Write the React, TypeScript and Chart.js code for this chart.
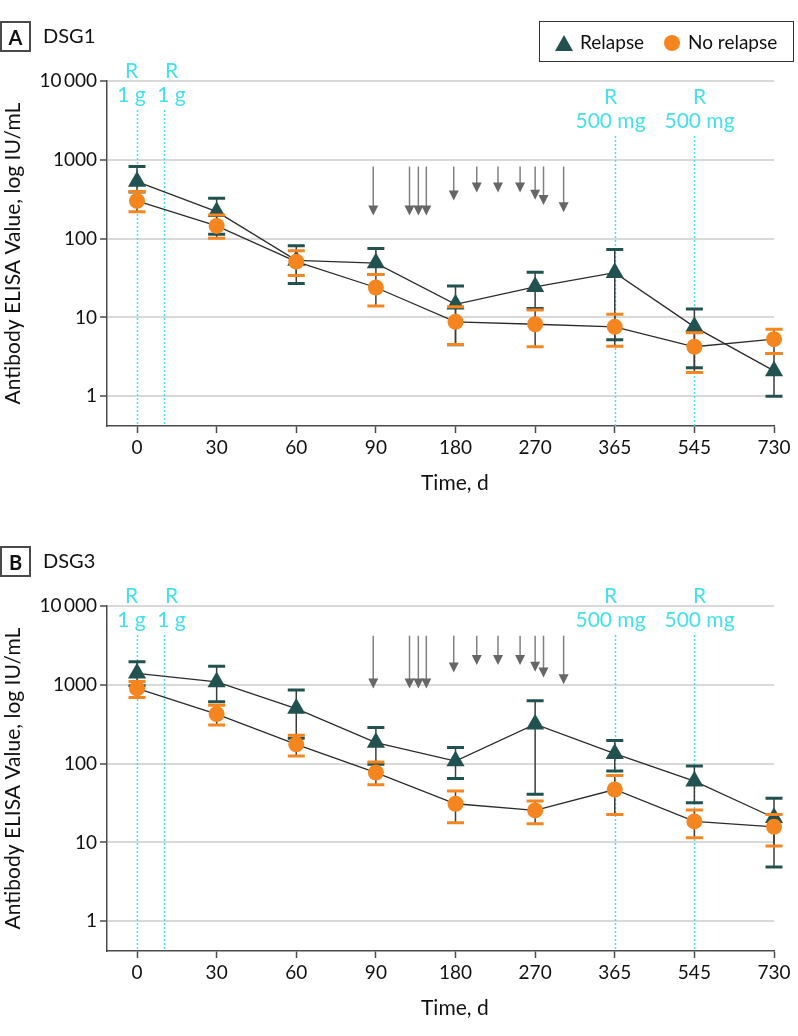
import React, { useEffect, useRef } from "react";
import { Chart, registerables } from "chart.js";

Chart.register(...registerables);

// ---------- data ----------
const xTickDays = [0, 30, 60, 90, 180, 270, 365, 545, 730];
const xTickLabels = ["0", "30", "60", "90", "180", "270", "365", "545", "730"];
const yTickValues = [1, 10, 100, 1000, 10000];
const yTickLabels = ["1", "10", "100", "1000", "10\u2009000"];

// Panel A: DSG1
const dsg1RelapseMean = [530, 220, 53, 49, 14.7, 24.5, 37, 7.6, 2.1];
const dsg1RelapseLow = [390, 114, 27, 35, 4.5, 13, 5.2, 2.3, 1.0];
const dsg1RelapseHigh = [822, 326, 81, 75, 25, 37.4, 73, 12.8, 3.5];
const dsg1NoRelapseMean = [301, 145, 51, 24, 8.8, 8.2, 7.6, 4.25, 5.3];
const dsg1NoRelapseLow = [220, 101, 34, 14, 4.55, 4.25, 4.33, 2.0, 3.5];
const dsg1NoRelapseHigh = [396, 200, 70, 35, 13.7, 12.4, 11, 6.4, 7.1];

// Panel B: DSG3
const dsg3RelapseMean = [1400, 1090, 500, 185, 108, 316, 134, 60, 20.6];
const dsg3RelapseLow = [970, 608, 210, 98, 64.6, 40.8, 80.7, 32, 4.87];
const dsg3RelapseHigh = [1960, 1715, 857, 287, 160, 627, 196, 93.4, 36.3];
const dsg3NoRelapseMean = [900, 425, 176, 77, 31, 25.5, 47, 18.5, 15.8];
const dsg3NoRelapseLow = [692, 310, 125, 54, 17.8, 17.3, 22.7, 11.5, 9.0];
const dsg3NoRelapseHigh = [1105, 552, 229, 105, 45, 33.5, 71, 25.8, 22.7];

// Relapse events (arrows), day of event
const relapseDays = [89, 128, 138, 147, 178, 204, 228, 253, 270, 280, 304];
const dsg1ArrowStart = 822;
const dsg1ArrowTip = [196, 196, 196, 196, 304, 384, 384, 384, 311, 268, 216];
const dsg3ArrowStart = 4200;
const dsg3ArrowTip = [900, 900, 900, 900, 1438, 1780, 1780, 1780, 1463, 1241, 1020];

// Rituximab doses
const doseDays = [0, 10, 365, 545];
const doseLabels = ["1 g", "1 g", "500 mg", "500 mg"];

// ---------- styles ----------
const FONT = "Lato";
const TEAL = "#22524f";
const ORANGE = "#f5861f";
const CYAN = "#45e0ea";
const TEXT = "#111";
const AXIS = "#4a4a4a";

function dayToIndex(d: number): number {
  for (let i = 0; i < xTickDays.length - 1; i++) {
    const a = xTickDays[i];
    const b = xTickDays[i + 1];
    if (d >= a && d <= b) return i + (d - a) / (b - a);
  }
  return xTickDays.length - 1;
}

type Series = { mean: number[]; low: number[]; high: number[]; color: string };
type PanelCfg = {
  relapse: Series;
  noRelapse: Series;
  arrowStart: number;
  arrowTip: number[];
  doseDrop: number[];
};

const doseNudge = [-6, 7, -5, 5];

function makePlugin(p: PanelCfg) {
  return {
    id: "panelDecor",
    beforeDatasetsDraw(chart: any) {
      const { ctx, chartArea } = chart;
      const x = chart.scales.x;
      const y = chart.scales.y;
      ctx.save();
      // rituximab dose lines + labels
      doseDays.forEach((d, i) => {
        const px = Math.round(x.getPixelForValue(dayToIndex(d))) + 0.5;
        const drop = p.doseDrop[i];
        ctx.strokeStyle = CYAN;
        ctx.lineWidth = 1.5;
        ctx.setLineDash([2, 2]);
        ctx.beginPath();
        ctx.moveTo(px, chartArea.top + 29 + drop);
        ctx.lineTo(px, chartArea.bottom);
        ctx.stroke();
        ctx.setLineDash([]);
        ctx.fillStyle = CYAN;
        ctx.font = `21px ${FONT}`;
        ctx.textAlign = "center";
        ctx.textBaseline = "alphabetic";
        const lx = px + doseNudge[i];
        ctx.fillText("R", lx, chartArea.top - 3.5 + drop);
        ctx.fillText(doseLabels[i], lx, chartArea.top + 20.5 + drop);
      });
      // relapse arrows
      relapseDays.forEach((d, i) => {
        const px = x.getPixelForValue(dayToIndex(d));
        const y0 = y.getPixelForValue(p.arrowStart);
        const y1 = y.getPixelForValue(p.arrowTip[i]);
        ctx.strokeStyle = "#808080";
        ctx.lineWidth = 1.5;
        ctx.beginPath();
        ctx.moveTo(px, y0);
        ctx.lineTo(px, y1 - 8);
        ctx.stroke();
        ctx.fillStyle = "#666";
        ctx.beginPath();
        ctx.moveTo(px - 5, y1 - 10);
        ctx.lineTo(px + 5, y1 - 10);
        ctx.lineTo(px, y1);
        ctx.closePath();
        ctx.fill();
      });
      ctx.restore();
    },
    beforeDatasetDraw(chart: any, args: any) {
      const s = args.index === 0 ? p.relapse : p.noRelapse;
      const { ctx } = chart;
      const x = chart.scales.x;
      const y = chart.scales.y;
      ctx.save();
      s.mean.forEach((_, i) => {
        const px = x.getPixelForValue(i);
        const yl = y.getPixelForValue(s.low[i]);
        const yh = y.getPixelForValue(s.high[i]);
        ctx.strokeStyle = "#3d3d3d";
        ctx.lineWidth = 1.5;
        ctx.beginPath();
        ctx.moveTo(px, yl);
        ctx.lineTo(px, yh);
        ctx.stroke();
        ctx.strokeStyle = s.color;
        ctx.lineWidth = 3;
        ctx.beginPath();
        ctx.moveTo(px - 8.5, yl);
        ctx.lineTo(px + 8.5, yl);
        ctx.moveTo(px - 8.5, yh);
        ctx.lineTo(px + 8.5, yh);
        ctx.stroke();
      });
      ctx.restore();
    },
  };
}

function buildConfig(p: PanelCfg): any {
  const tickFont = { family: FONT, size: 19 };
  return {
    type: "scatter",
    data: {
      datasets: [
        {
          label: "Relapse",
          data: p.relapse.mean.map((v, i) => ({ x: i, y: v })),
          showLine: true,
          borderColor: "#2b2b2b",
          borderWidth: 1.3,
          pointStyle: "triangle",
          pointRadius: 10.5,
          pointHoverRadius: 10.5,
          pointBackgroundColor: TEAL,
          pointBorderColor: TEAL,
          pointBorderWidth: 0,
          order: 2,
          clip: false,
        },
        {
          label: "No relapse",
          data: p.noRelapse.mean.map((v, i) => ({ x: i, y: v })),
          showLine: true,
          borderColor: "#2b2b2b",
          borderWidth: 1.3,
          pointStyle: "circle",
          pointRadius: 8,
          pointHoverRadius: 8,
          pointBackgroundColor: ORANGE,
          pointBorderColor: ORANGE,
          pointBorderWidth: 0,
          order: 1,
          clip: false,
        },
      ],
    },
    options: {
      animation: false,
      responsive: false,
      devicePixelRatio: 1,
      events: [],
      layout: { padding: { top: 81, right: 24, bottom: 0, left: 0 } },
      plugins: { legend: { display: false }, tooltip: { enabled: false } },
      scales: {
        x: {
          type: "linear",
          min: -0.377,
          max: 8,
          afterBuildTicks: (s: any) => {
            s.ticks = xTickLabels.map((_, i) => ({ value: i }));
          },
          afterFit: (s: any) => {
            s.height = 99;
          },
          ticks: {
            callback: (v: number) => xTickLabels[v] ?? "",
            font: tickFont,
            color: TEXT,
            padding: 3,
            maxRotation: 0,
            autoSkip: false,
          },
          grid: {
            drawOnChartArea: false,
            drawTicks: true,
            tickLength: 7,
            tickColor: AXIS,
            tickWidth: 1.5,
          },
          border: { color: AXIS, width: 1.5 },
        },
        y: {
          type: "logarithmic",
          min: 0.42,
          max: 10000,
          afterBuildTicks: (s: any) => {
            s.ticks = yTickValues.map((v) => ({ value: v }));
          },
          afterFit: (s: any) => {
            s.width = 107;
          },
          ticks: {
            callback: (v: number) => {
              const k = yTickValues.indexOf(v);
              return k >= 0 ? yTickLabels[k] : "";
            },
            font: tickFont,
            color: TEXT,
            padding: 3,
            autoSkip: false,
          },
          grid: {
            color: "#d9d9d9",
            lineWidth: 2,
            drawTicks: true,
            tickLength: 7,
            tickColor: AXIS,
            tickWidth: 1.5,
          },
          border: { color: AXIS, width: 1.5 },
          title: {
            display: true,
            text: "Antibody ELISA Value, log IU/mL",
            font: { family: FONT, size: 21 },
            color: TEXT,
            padding: { top: 1, bottom: 0 },
          },
        },
      },
    },
    plugins: [makePlugin(p)],
  };
}

const panelA: PanelCfg = {
  relapse: { mean: dsg1RelapseMean, low: dsg1RelapseLow, high: dsg1RelapseHigh, color: TEAL },
  noRelapse: { mean: dsg1NoRelapseMean, low: dsg1NoRelapseLow, high: dsg1NoRelapseHigh, color: ORANGE },
  arrowStart: dsg1ArrowStart,
  arrowTip: dsg1ArrowTip,
  doseDrop: [0, 0, 26, 26],
};

const panelB: PanelCfg = {
  relapse: { mean: dsg3RelapseMean, low: dsg3RelapseLow, high: dsg3RelapseHigh, color: TEAL },
  noRelapse: { mean: dsg3NoRelapseMean, low: dsg3NoRelapseLow, high: dsg3NoRelapseHigh, color: ORANGE },
  arrowStart: dsg3ArrowStart,
  arrowTip: dsg3ArrowTip,
  doseDrop: [0, 0, 0, 0],
};

function PanelChart({ cfg, top }: { cfg: PanelCfg; top: number }) {
  const ref = useRef<HTMLCanvasElement>(null);
  useEffect(() => {
    const chart = new Chart(ref.current as HTMLCanvasElement, buildConfig(cfg));
    return () => chart.destroy();
  }, [cfg]);
  return (
    <canvas
      ref={ref}
      width={798}
      height={525}
      style={{ position: "absolute", left: 0, top, width: 798, height: 525 }}
    />
  );
}

function PanelHeader({ letter, name, top }: { letter: string; name: string; top: number }) {
  return (
    <>
      <div
        style={{
          position: "absolute",
          left: 0,
          top: top + 21,
          width: 31,
          height: 31,
          boxSizing: "border-box",
          border: `2px solid ${AXIS}`,
          display: "flex",
          alignItems: "center",
          justifyContent: "center",
          font: `bold 20px ${FONT}`,
          color: TEXT,
        }}
      >
        {letter}
      </div>
      <div
        style={{
          position: "absolute",
          left: 43,
          top: top + 25.2,
          font: `20px ${FONT}`,
          lineHeight: "20px",
          color: TEXT,
          whiteSpace: "nowrap",
        }}
      >
        {name}
      </div>
      <div
        style={{
          position: "absolute",
          left: 421,
          top: top + 471,
          font: `21px ${FONT}`,
          lineHeight: "21px",
          color: TEXT,
          whiteSpace: "nowrap",
        }}
      >
        Time, d
      </div>
    </>
  );
}

function Legend() {
  return (
    <>
      <div
        style={{
          position: "absolute",
          left: 539,
          top: 21,
          width: 255,
          height: 41,
          boxSizing: "border-box",
          border: `1.5px solid #333`,
        }}
      />
      <svg style={{ position: "absolute", left: 554.5, top: 35 }} width={18} height={16}>
        <polygon points="9,0 18,16 0,16" fill={TEAL} />
      </svg>
      <div
        style={{
          position: "absolute",
          left: 580,
          top: 31.7,
          font: `19px ${FONT}`,
          lineHeight: "19px",
          color: TEXT,
          whiteSpace: "nowrap",
        }}
      >
        Relapse
      </div>
      <div
        style={{
          position: "absolute",
          left: 664,
          top: 35,
          width: 16,
          height: 16,
          borderRadius: "50%",
          background: ORANGE,
        }}
      />
      <div
        style={{
          position: "absolute",
          left: 688,
          top: 31.7,
          font: `19px ${FONT}`,
          lineHeight: "19px",
          color: TEXT,
          whiteSpace: "nowrap",
        }}
      >
        No relapse
      </div>
    </>
  );
}

export default function App() {
  return (
    <div
      style={{
        position: "absolute",
        left: 0,
        top: 0,
        width: 798,
        height: 1036,
        background: "#fff",
        fontFamily: FONT,
      }}
    >
      <PanelChart cfg={panelA} top={0} />
      <PanelChart cfg={panelB} top={525} />
      <PanelHeader letter="A" name="DSG1" top={0} />
      <PanelHeader letter="B" name="DSG3" top={525} />
      <Legend />
    </div>
  );
}
